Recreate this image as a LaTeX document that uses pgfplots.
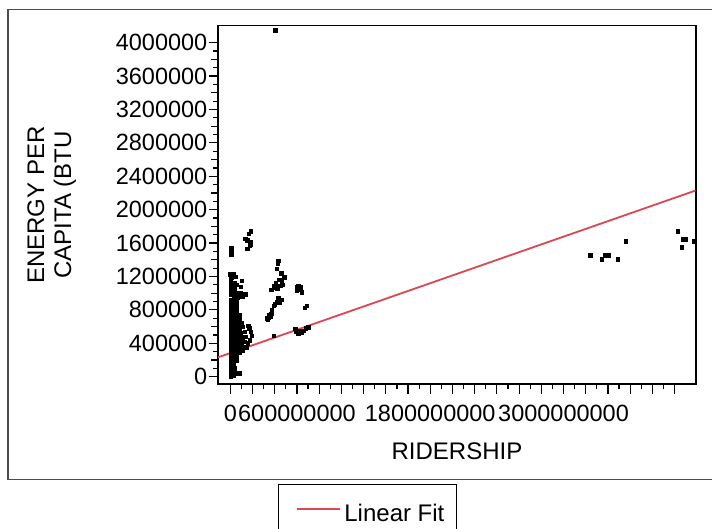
\documentclass[border=0pt]{standalone}
\usepackage{fontspec}
\setmainfont{Liberation Sans}
\usepackage{pgfplots}
\pgfplotsset{compat=1.18}
\definecolor{fitred}{RGB}{219,72,82}
\definecolor{framegray}{gray}{0.3}
\newcommand{\labfont}{\fontsize{24bp}{28bp}\selectfont}
\newcommand{\tickfont}{\fontsize{23.5bp}{28bp}\selectfont}

\begin{document}
\begin{tikzpicture}[x=1bp,y=1bp]
\fill[white] (0,0) rectangle (712,529);
\useasboundingbox (0,0) rectangle (712,529);
% outer frame (right side runs off the picture)
\draw[framegray, line width=1.3bp] (714,519.5) -- (8,519.5) -- (8,49.5) -- (714,49.5);

\begin{axis}[
    at={(218bp,144.7bp)}, anchor=south west,
    scale only axis, width=477.7bp, height=358.6bp,
    xmin=-1.107e8, xmax=4.19e9,
    ymin=-91000, ymax=4203600,
    axis line style={black, line width=1.6bp},
    tick style={black, line width=1.2bp},
    tick align=outside,
    xtick pos=bottom, ytick pos=left,
    major tick length=9.5bp, minor tick length=5bp,
    scaled x ticks=false, scaled y ticks=false,
    xtick={0,2e8,4e8,6e8,8e8,1e9,1.2e9,1.4e9,1.6e9,1.8e9,2e9,2.2e9,2.4e9,2.6e9,2.8e9,3e9,3.2e9,3.4e9,3.6e9,3.8e9,4e9},
    xticklabels={0,,,600000000,,,,,,1800000000,,,,,,3000000000},
    minor x tick num=1,
    ytick={0,400000,800000,1200000,1600000,2000000,2400000,2800000,3200000,3600000,4000000},
    yticklabels={0,400000,800000,1200000,1600000,2000000,2400000,2800000,3200000,3600000,4000000},
    minor y tick num=3,
    extra y ticks={200000,600000,1000000,1400000,1800000,2200000,2600000,3000000,3400000,3800000},
    extra y tick labels={},
    extra y tick style={major tick length=7bp},
    tick label style={font=\tickfont},
    xticklabel style={inner sep=0pt, yshift=-11bp},
    yticklabel style={inner sep=1bp},
    legend style={at={(0.1256,-0.278)}, anchor=north west, draw=black, line width=1.2bp,
        inner xsep=10bp, inner ysep=17.7bp, font=\labfont, cells={inner sep=0pt},
        /tikz/every even column/.append style={column sep=5bp}},
    legend image code/.code={\path (0bp,0bp) (52bp,0bp); \draw[#1] (7bp,0.45em) -- (50bp,0.45em);},
]
\addplot[only marks, mark=square*, mark size=1.75bp,
    mark options={fill=black, draw=black, line width=0.2bp}, forget plot]
  coordinates {
  (3e6,0)(8e6,40000)(2e6,80000)(6e6,120000)(1e6,160000)(7e6,200000)(4e6,240000)(9e6,280000)
  (2e6,320000)(6e6,360000)(3e6,400000)(8e6,440000)(1e6,480000)(5e6,520000)(9e6,560000)(2e6,600000)
  (7e6,640000)(4e6,680000)(8e6,720000)(1e6,760000)(6e6,800000)(3e6,840000)(9e6,880000)(4e6,920000)
  (2.8e7,20000)(2.4e7,60000)(3.3e7,100000)(2.6e7,140000)(3.1e7,180000)(2.5e7,220000)(3.4e7,260000)
  (2.7e7,300000)(3.2e7,340000)(2.4e7,380000)(3.0e7,420000)(3.5e7,460000)(2.6e7,500000)(3.1e7,540000)
  (2.5e7,580000)(3.3e7,620000)(2.8e7,660000)(2.4e7,700000)(3.2e7,740000)(2.7e7,780000)(3.0e7,820000)
  (2.5e7,860000)(3.3e7,900000)(2.8e7,940000)
  (5.5e7,35000)(6.0e7,45000)(5.2e7,190000)(5.8e7,230000)(5.0e7,270000)(6.1e7,310000)(5.4e7,350000)
  (4.9e7,390000)(5.9e7,430000)(5.3e7,470000)(6.2e7,510000)(5.0e7,550000)(5.7e7,590000)(5.2e7,630000)
  (6.0e7,670000)(5.5e7,710000)(4.9e7,750000)(5.8e7,790000)(5.1e7,830000)(5.6e7,880000)(5.0e7,930000)
  (7.6e7,40000)(8.5e7,45000)(8.0e7,290000)(7.4e7,330000)(8.6e7,370000)(7.8e7,410000)(8.3e7,450000)
  (7.5e7,490000)(8.7e7,530000)(7.9e7,570000)(7.3e7,610000)(8.4e7,650000)(7.7e7,690000)(8.1e7,740000)
  (7.5e7,960000)
  (1.05e8,320000)(1.1e8,360000)(1.02e8,400000)(1.08e8,440000)(1.12e8,480000)(1.04e8,600000)
  (1.0e8,650000)(1.07e8,970000)
  (1.3e8,360000)(1.26e8,420000)(1.34e8,480000)(1.28e8,540000)(1.32e8,990000)
  (1.45e8,350000)(1.55e8,400000)(1.75e8,440000)(1.9e8,490000)(1.85e8,540000)(1.7e8,580000)(1.6e8,610000)
  (0,1230000)(5e6,1190000)(1e6,1150000)(4e6,1110000)(2e6,1070000)(6e6,1030000)(3e6,990000)
  (3e7,1230000)(4.2e7,1200000)(3.2e7,1120000)(5e7,1100000)(4e7,1060000)(5.2e7,1010000)(4e7,975000)
  (6.2e7,955000)(9e7,1000000)(1.0e8,1150000)(9.2e7,1080000)(1.1e8,960000)
  (5e6,1460000)(5e6,1500000)(5e6,1545000)
  (1.85e8,1742000)(1.64e8,1714000)(1.34e8,1654000)(1.49e8,1634000)(1.79e8,1613000)(1.73e8,1574000)
  (1.49e8,1534000)(1.85e8,1590000)
  (4.32e8,1393000)(4.27e8,1354000)(4.18e8,1294000)(4.56e8,1241000)(4.86e8,1193000)(4.39e8,1161000)
  (4.62e8,1133000)(4.09e8,1121000)(3.88e8,1093000)(3.67e8,1041000)(4.03e8,1073000)(4.2e8,1060000)
  (4.5e8,1090000)(4.7e8,1100000)
  (6.11e8,1093000)(6.35e8,1073000)(5.97e8,1033000)(6.41e8,1013000)(6.2e8,1050000)(6.0e8,1070000)
  (4.32e8,945000)(4.62e8,921000)(4.39e8,893000)(4.0e8,870000)(4.15e8,900000)(3.88e8,853000)
  (3.73e8,801000)(3.67e8,753000)(3.43e8,713000)(3.37e8,681000)(3.5e8,740000)(3.3e8,700000)(3.6e8,720000)
  (6.86e8,853000)(6.71e8,825000)
  (3.88e8,493000)(5.82e8,573000)(6.11e8,520000)(6.56e8,553000)(7.0e8,592000)(6.26e8,553000)
  (6.4e8,530000)(5.9e8,540000)(6.8e8,580000)
  (4.02e8,4152000)
  (3.237e9,1457000)(3.343e9,1410000)(3.372e9,1457000)(3.402e9,1457000)(3.487e9,1410000)(3.559e9,1625000)
  (4.027e9,1745000)(4.072e9,1649000)(4.095e9,1649000)(4.063e9,1553000)(4.171e9,1625000)
  };
\addplot[fitred, line width=1.8bp] coordinates {(-1.107e8,232000) (4.19e9,2230000)};
\addlegendentry{Linear Fit}
\end{axis}

\node[anchor=base, font=\labfont] at (457,69) {RIDERSHIP};
\node[anchor=base, rotate=90, font=\labfont] at (44,324) {ENERGY PER};
\node[anchor=base, rotate=90, font=\labfont] at (71,324) {CAPITA (BTU};
\end{tikzpicture}
\end{document}
